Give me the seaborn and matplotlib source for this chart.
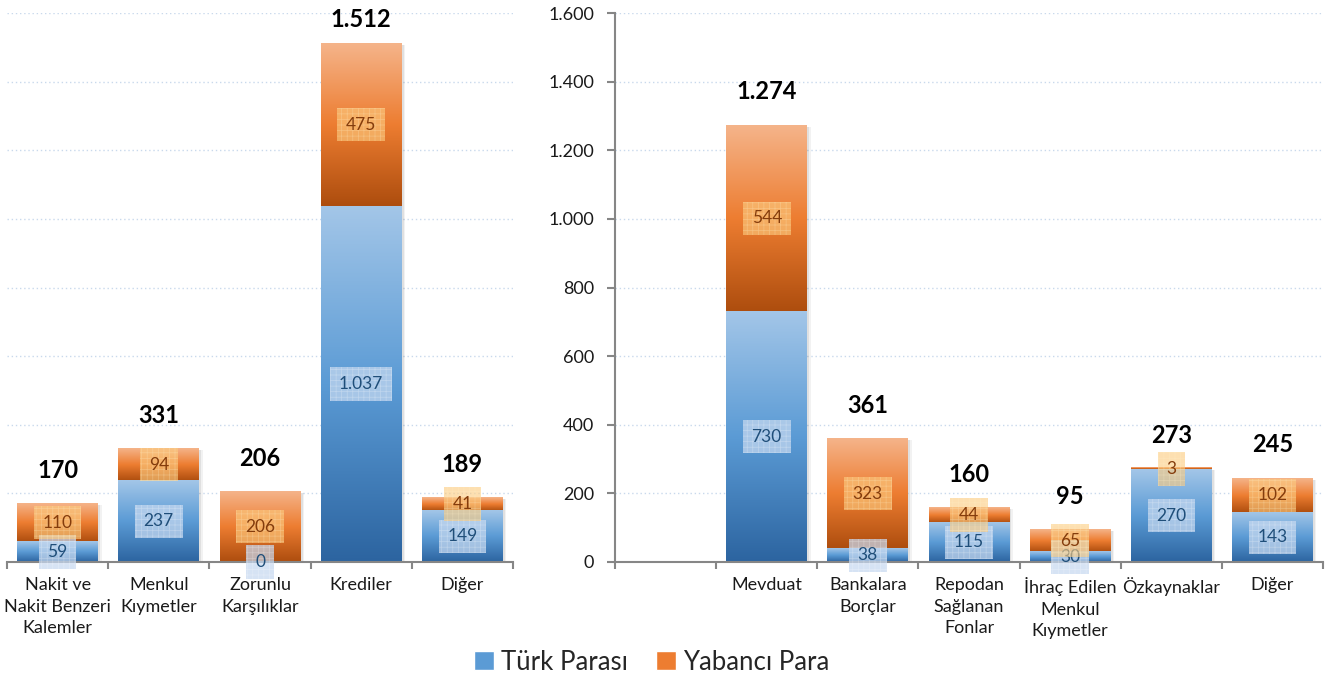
import numpy as np
import pandas as pd
import matplotlib
matplotlib.use("Agg")
import matplotlib.pyplot as plt
from matplotlib.colors import LinearSegmentedColormap
from matplotlib.patches import Patch, Rectangle
from matplotlib.ticker import FuncFormatter
import seaborn as sns

# Aktifler (left) and Pasifler (right), TP / YP split
left_cats = ["Nakit ve\nNakit Benzeri\nKalemler", "Menkul\nKıymetler", "Zorunlu\nKarşılıklar", "Krediler", "Diğer"]
left_tp = [59, 237, 0, 1037, 149]
left_yp = [110, 94, 206, 475, 41]
left_total = [170, 331, 206, 1512, 189]

right_cats = ["Mevduat", "Bankalara\nBorçlar", "Repodan\nSağlanan\nFonlar", "İhraç Edilen\nMenkul\nKıymetler", "Özkaynaklar", "Diğer"]
right_tp = [730, 38, 115, 30, 270, 143]
right_yp = [544, 323, 44, 65, 3, 102]
right_total = [1274, 361, 160, 95, 273, 245]

y_ticks = list(range(0, 1601, 200))

sns.set_theme(style="white")
plt.rcParams["font.family"] = ["Lato", "DejaVu Sans"]
plt.rcParams["hatch.linewidth"] = 0.5

W, H = 1330, 682
fig = plt.figure(figsize=(W / 100, H / 100), dpi=100)
ax_l = fig.add_axes([7 / W, (H - 562) / H, (513 - 7) / W, 549 / H])
ax_r = fig.add_axes([615 / W, (H - 562) / H, (1323 - 615) / W, 549 / H])

blue_cmap = LinearSegmentedColormap.from_list("tp", ["#2c64a0", "#5b9bd5", "#a3c6e8"])
orange_cmap = LinearSegmentedColormap.from_list("yp", ["#ad4d0e", "#ed7d31", "#f5b48a"])
grad = np.linspace(0, 1, 256).reshape(-1, 1)

blue_box = dict(boxstyle="square,pad=0.5", fc=(0.78, 0.85, 0.94, 0.72), ec=(1, 1, 1, 0.28), lw=0, hatch="+++")
orange_box = dict(boxstyle="square,pad=0.5", fc=(0.99, 0.80, 0.50, 0.62), ec=(1, 0.95, 0.8, 0.3), lw=0, hatch="+++")


def fmt(v):
    return f"{int(v):,}".replace(",", ".")


def draw_panel(ax, cats, tp, yp, total):
    df = pd.DataFrame({"cat": cats, "tp": tp, "top": total})
    sns.barplot(data=df, x="cat", y="top", color="#ed7d31", width=0.8, saturation=1, ax=ax)
    n = len(ax.patches)
    sns.barplot(data=df, x="cat", y="tp", color="#5b9bd5", width=0.8, saturation=1, ax=ax)
    orange_bars = ax.patches[:n]
    blue_bars = ax.patches[n:]
    for ob, bb, t, y, tot in zip(orange_bars, blue_bars, tp, yp, total):
        x0, w = ob.get_x(), ob.get_width()
        y_tp, y_top = bb.get_height(), ob.get_height()
        # soft shadow
        for k, a in [(0.035, 0.05), (0.02, 0.07)]:
            ax.add_patch(Rectangle((x0 + k, -10), w, y_top + 5, fc="black", alpha=a, lw=0, zorder=1.5))
        if y_top > y_tp:
            ax.imshow(grad, cmap=orange_cmap, origin="lower", aspect="auto",
                      extent=[x0, x0 + w, y_tp, y_top], zorder=2)
        if y_tp > 0:
            ax.imshow(grad, cmap=blue_cmap, origin="lower", aspect="auto",
                      extent=[x0, x0 + w, 0, y_tp], zorder=2)
        ob.set_visible(False)
        bb.set_visible(False)
        cx = x0 + w / 2
        ax.text(cx, y_tp / 2, fmt(t), ha="center", va="center", fontsize=12.5,
                color="#1f4e79", bbox=blue_box, zorder=5)
        ax.text(cx, (y_tp + y_top) / 2, fmt(y), ha="center", va="center", fontsize=12.5,
                color="#843c0c", bbox=orange_box, zorder=5)
        ax.text(cx, min(y_top + 96, 1580), fmt(tot), ha="center", va="center",
                fontsize=17, fontweight="bold", color="black", zorder=5)


draw_panel(ax_l, left_cats, left_tp, left_yp, left_total)
draw_panel(ax_r, right_cats, right_tp, right_yp, right_total)

ax_l.set_xlim(-0.5, len(left_cats) - 0.5)
ax_r.set_xlim(-1.5, len(right_cats) - 0.5)

for ax, lo in [(ax_l, -0.5), (ax_r, -1.5)]:
    ax.set_ylim(0, 1600)
    ax.set_yticks(y_ticks)
    ax.yaxis.grid(True, color="#c9d9ec", linestyle=(0, (1, 2)), linewidth=1)
    ax.set_axisbelow(True)
    ax.set_xlabel("")
    ax.set_ylabel("")
    for s in ["top", "right"]:
        ax.spines[s].set_visible(False)
    ax.spines["bottom"].set_color("#868686")
    ax.spines["bottom"].set_linewidth(1.5)
    ax.set_xticks(np.arange(lo, ax.get_xlim()[1] + 0.01, 1.0), minor=True)
    ax.tick_params(axis="x", which="major", length=0, pad=11, labelsize=13, labelcolor="#1a1a1a")
    ax.tick_params(axis="x", which="minor", bottom=True, length=5, width=1.5, color="#868686")
    for lab in ax.get_xticklabels():
        lab.set_linespacing(1.42)

ax_l.spines["left"].set_visible(False)
ax_l.tick_params(axis="y", left=False, labelleft=False)

ax_r.spines["left"].set_color("#868686")
ax_r.spines["left"].set_linewidth(1.5)
ax_r.yaxis.set_major_formatter(FuncFormatter(lambda v, p: fmt(v)))
ax_r.tick_params(axis="y", left=True, length=6, width=1.5, color="#868686", pad=9,
                 labelsize=13, labelcolor="#1a1a1a")

handles = [Patch(fc="#5b9bd5", label="Türk Parası"), Patch(fc="#ed7d31", label="Yabancı Para")]
fig.legend(handles=handles, loc="center", bbox_to_anchor=(652 / W, 1 - 662 / H), ncol=2,
           frameon=False, fontsize=18.5, handlelength=0.75, handleheight=0.75,
           handletextpad=0.3, columnspacing=1.1)

fig.savefig("out.png", dpi=100)
